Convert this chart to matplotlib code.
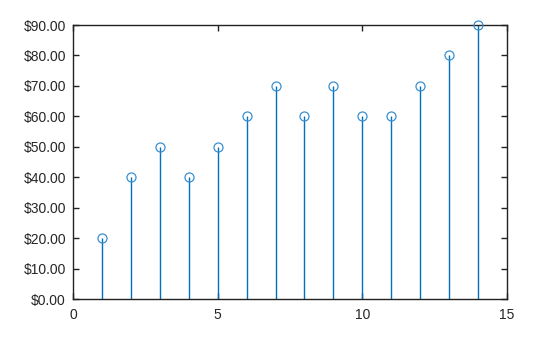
import matplotlib
matplotlib.use("Agg")
import matplotlib.pyplot as plt
from matplotlib.ticker import FuncFormatter

x = [1, 2, 3, 4, 5, 6, 7, 8, 9, 10, 11, 12, 13, 14]
values = [20, 40, 50, 40, 50, 60, 70, 60, 70, 60, 60, 70, 80, 90]
xticks = [0, 5, 10, 15]
yticks = [0, 10, 20, 30, 40, 50, 60, 70, 80, 90]

plt.rcParams['font.family'] = ['Liberation Sans', 'DejaVu Sans']

fig = plt.figure(figsize=(5.6, 3.37), dpi=100)
ax = fig.add_axes([73/560, 1-299/337, (507-73)/560, (299-25)/337])

ax.vlines(x, 0, values, color='#0072bd', linewidth=1.0)
ax.plot(x, values, linestyle='none', marker='o', markersize=6.5,
        markerfacecolor='none', markeredgecolor='#3a8fd0', markeredgewidth=0.9,
        clip_on=False, zorder=5)

ax.set_xlim(0, 15)
ax.set_ylim(0, 90)
ax.set_xticks(xticks)
ax.set_yticks(yticks)
ax.yaxis.set_major_formatter(FuncFormatter(lambda v, p: f"${v:.2f}"))
ax.tick_params(direction='in', top=True, right=True, length=4, width=1,
               labelsize=10, colors='#222222', labelcolor='#262626')
ax.tick_params(axis='x', pad=6.5)
ax.tick_params(axis='y', pad=5)
for s in ax.spines.values():
    s.set_linewidth(1.0)
    s.set_color('#222222')

fig.savefig('out.png', dpi=100)
